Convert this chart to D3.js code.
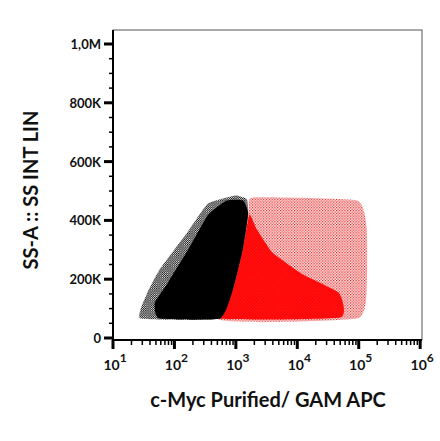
<!DOCTYPE html>
<html><head><meta charset="utf-8">
<script src="https://cdn.jsdelivr.net/npm/d3@7"></script>
<style>body{margin:0;background:#fff}text{font-family:Lato,"Open Sans",sans-serif}</style>
</head><body><div class="chart"></div>
<script>
// population outlines: [log10 intensity, SS-A in K]
const blackFringe = [[1.45,66],[1.55,150],[1.75,230],[2.2,356],[2.55,458],[3.0,485],[3.18,472],[3.2,424],[3.12,308],[2.95,163],[2.74,66]];
const blackCore = [[1.75,66],[1.68,120],[1.9,190],[2.25,310],[2.55,420],[2.85,468],[3.12,468],[3.2,424],[3.12,308],[2.95,163],[2.74,66]];
const redSparse = [[2.69,66],[4.97,66],[5.13,163],[5.13,376],[4.97,468],[3.28,478],[3.2,424]];
const redDense = [[2.74,66],[4.70,70],[4.68,153],[4.1,215],[3.6,290],[3.34,370],[3.22,420],[3.12,308],[2.95,163]];
const yTicks = [0,200,400,600,800,1000];
const yLabels = ["0","200K","400K","600K","800K","1,0M"];
const xDecades = [1,2,3,4,5,6];

const svg = d3.select(".chart").append("svg").attr("width",440).attr("height",441);
const x = d3.scaleLinear().domain([1,6.03]).range([113,422]);
const y = d3.scaleLinear().domain([0,1000]).range([338,44]);

const defs = svg.append("defs");
function dots(id, color, step, r){
  const p = defs.append("pattern").attr("id",id).attr("patternUnits","userSpaceOnUse")
    .attr("width",step).attr("height",step);
  p.append("rect").attr("width",r).attr("height",r).attr("fill",color);
  p.append("rect").attr("x",step/2).attr("y",step/2).attr("width",r).attr("height",r).attr("fill",color);
}
dots("rs","#e10000",2.8,1.2);
dots("rd","#ff0000",1.4,1.3);
dots("bf","#000",2.2,1.2);

// frame
svg.append("rect").attr("x",113).attr("y",30).attr("width",309).attr("height",310)
  .attr("fill","none").attr("stroke","#555").attr("stroke-width",1);

const line = d3.line().x(d=>x(d[0])).y(d=>y(d[1])).curve(d3.curveCardinalClosed.tension(0.6));
svg.append("path").attr("d",line(redSparse)).attr("fill","url(#rs)");
svg.append("path").attr("d",line(redDense)).attr("fill","url(#rd)");
svg.append("path").attr("d",line(blackFringe)).attr("fill","url(#bf)");
svg.append("path").attr("d",line(blackCore)).attr("fill","#000");

// y axis
const ya = svg.append("g").attr("transform","translate(113,0)");
ya.append("line").attr("y1",30).attr("y2",340).attr("stroke","#000").attr("stroke-width",2);
d3.range(0,1001,50).forEach(v=>{
  const major = v%200===0;
  ya.append("line").attr("x1",major?-9:-4).attr("x2",0).attr("y1",y(v)).attr("y2",y(v))
    .attr("stroke","#000").attr("stroke-width",major?3:1.5);
});
yTicks.forEach((v,i)=>ya.append("text").attr("x",-12).attr("y",y(v)+5).attr("text-anchor","end")
  .attr("font-size",13).attr("font-weight","bold").attr("fill","#111").text(yLabels[i]));

// x axis
const xa = svg.append("g").attr("transform","translate(0,340)");
xa.append("line").attr("x1",113).attr("x2",422).attr("stroke","#000").attr("stroke-width",2);
xDecades.forEach(d=>{
  xa.append("line").attr("x1",x(d)).attr("x2",x(d)).attr("y1",0).attr("y2",9).attr("stroke","#000").attr("stroke-width",3);
  if(d<6) d3.range(2,10).forEach(m=>{
    const xv = x(d+Math.log10(m));
    xa.append("line").attr("x1",xv).attr("x2",xv).attr("y1",0).attr("y2",5).attr("stroke","#000").attr("stroke-width",1.5);
  });
  const t = xa.append("text").attr("x",x(d)+2).attr("y",30).attr("text-anchor","middle").attr("font-size",14).attr("font-weight","bold").attr("fill","#111");
  t.append("tspan").text("10");
  t.append("tspan").attr("dy",-8).attr("font-size",12).text(d);
});

svg.append("text").attr("x",268).attr("y",407).attr("text-anchor","middle")
  .attr("font-size",20).attr("font-weight","bold").attr("fill","#111").text("c-Myc Purified/ GAM APC");
svg.append("text").attr("transform","translate(38,190) rotate(-90)").attr("text-anchor","middle")
  .attr("font-size",20).attr("font-weight","bold").attr("fill","#111").text("SS-A :: SS INT LIN");
</script></body></html>
